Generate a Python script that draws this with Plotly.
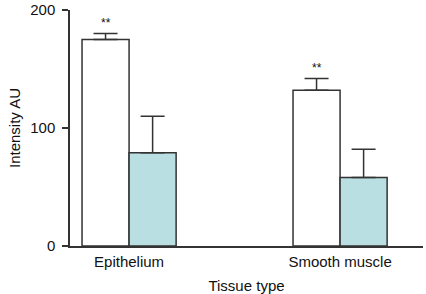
import plotly.graph_objects as go

categories = ["Epithelium", "Smooth muscle"]
control_values = [175, 132]
control_errors = [5, 10]
treated_values = [79, 58]
treated_errors = [31, 24]
significance = ["**", "**"]

x_pos = [0, 1]
off = 0.1115

line_col = "#333333"
font = dict(family="Liberation Sans, Arial, sans-serif", size=15, color="#111111")

fig = go.Figure()
fig.add_trace(go.Bar(
    x=x_pos, y=control_values, name="Control",
    marker=dict(color="white", line=dict(color=line_col, width=1.5)),
    error_y=dict(type="data", symmetric=False, array=control_errors,
                 arrayminus=[0, 0], color=line_col, thickness=1.5, width=12),
))
fig.add_trace(go.Bar(
    x=x_pos, y=treated_values, name="Treated",
    marker=dict(color="#b9dfe2", line=dict(color=line_col, width=1.5)),
    error_y=dict(type="data", symmetric=False, array=treated_errors,
                 arrayminus=[0, 0], color=line_col, thickness=1.5, width=12),
))

for xp, v, e, s in zip(x_pos, control_values, control_errors, significance):
    fig.add_annotation(x=xp - off, y=v + e + 1, text=s, showarrow=False,
                       yanchor="bottom", font=dict(family=font["family"], size=12, color="#111111"))

fig.update_layout(
    width=426, height=294,
    margin=dict(l=70, r=3, t=10, b=48),
    paper_bgcolor="white", plot_bgcolor="white",
    barmode="group", bargap=0.554, bargroupgap=0,
    showlegend=False,
    font=font,
    xaxis=dict(
        tickmode="array", tickvals=x_pos, ticktext=categories,
        range=[-0.28, 1.393], showgrid=False, zeroline=False,
        showline=True, linecolor=line_col, linewidth=1.5, ticks="",
        ticklabelstandoff=1,
        title=dict(text="Tissue type", standoff=12, font=font),
        tickfont=font, automargin=False,
    ),
    yaxis=dict(
        range=[0, 200], tickvals=[0, 100, 200], showgrid=False, zeroline=False,
        showline=True, linecolor=line_col, linewidth=1.5,
        ticks="outside", ticklen=6, tickwidth=1.5, tickcolor=line_col,
        ticklabelstandoff=4,
        title=dict(text="Intensity AU", standoff=6, font=font),
        tickfont=font, automargin=False,
    ),
)

fig.write_html("out.html", config={"displayModeBar": False},
               post_script="document.body.style.margin='0';document.body.style.overflow='hidden';")
